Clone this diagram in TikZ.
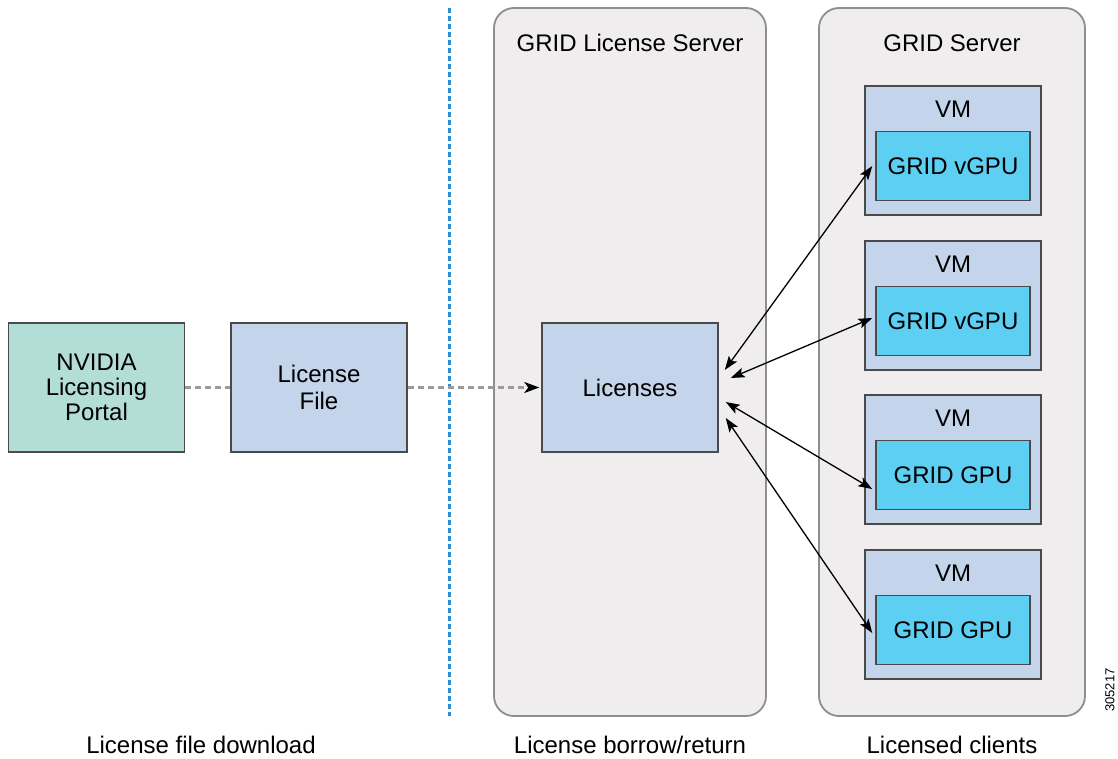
\documentclass[tikz,border=0pt]{standalone}
\usepackage{fontspec}
\setmainfont{Liberation Sans}
\usetikzlibrary{arrows.meta,calc}
\definecolor{portalc}{HTML}{B3DED8}
\definecolor{boxc}{HTML}{C4D4EA}
\definecolor{gpuc}{HTML}{5DCFF3}
\definecolor{contc}{HTML}{EFEDED}
\definecolor{contline}{HTML}{8E8E8E}
\definecolor{boxline}{HTML}{4A4A4A}
\definecolor{dotc}{HTML}{2A8FD0}
\definecolor{dashc}{HTML}{9A9A9A}
\tikzset{
  container/.style={draw=contline, fill=contc, line width=1.8pt, rounded corners=20pt, minimum width=#1, minimum height=708pt, inner sep=0pt},
  plainbox/.style={draw=boxline, line width=1.5pt, minimum width=176pt, minimum height=129pt, inner sep=0pt, align=center},
  vmbox/.style={draw=boxline, fill=boxc, line width=1.5pt, minimum width=176pt, minimum height=129pt, inner sep=0pt},
  gpubox/.style={draw=boxline, fill=gpuc, line width=1.5pt, minimum width=154pt, minimum height=69pt, inner sep=0pt},
  lbl/.style={inner sep=0pt, anchor=base},
  link/.style={{Stealth[length=14pt,width=10pt,inset=3pt]}-{Stealth[length=14pt,width=10pt,inset=3pt]}, line width=1.3pt, black},
  dashlink/.style={draw=dashc, line width=2.2pt, dash pattern=on 6pt off 4pt},
}
\begin{document}
\begin{tikzpicture}[x=1pt,y=-1pt,font=\fontsize{24}{28}\selectfont]
\useasboundingbox (0,0) rectangle (1118,758);
% containers
\node[container=272pt] (lsrv) at (630,362) {};
\node[container=266pt] (gsrv) at (952,362) {};
\node[lbl] (lsrvt) at (630,51) {GRID License Server};
\node[lbl] (gsrvt) at (952,51) {GRID Server};
% divider
\coordinate (dtop) at (449,8);
\coordinate (dbot) at (449,716);
\draw[dotc, line width=3pt, dash pattern=on 5pt off 3pt] (dtop) -- (dbot);
% left boxes
\node[plainbox, fill=portalc] (portal) at (96.5,387.5) {NVIDIA\\[-3pt]Licensing\\[-3pt]Portal};
\node[plainbox, fill=boxc] (lfile) at (319,387.5) {License\\[-1pt]File};
\node[plainbox, fill=boxc] (lic) at (630,387.5) {Licenses};
% VMs
\foreach \i/\y/\t in {1/150.5/GRID vGPU, 2/305.5/GRID vGPU, 3/459.5/GRID GPU, 4/614.5/GRID GPU}{
  \node[vmbox] (vm\i) at (953,\y) {};
  \node[lbl] (vml\i) at ($(vm\i.north)+(0,32)$) {VM};
  \node[gpubox] (gpu\i) at ($(vm\i.center)+(0,15.5)$) {\t};
}
% dashed links
\draw[dashlink] (portal.east) -- (lfile.west);
\draw[dashlink, -{Stealth[length=15pt,width=11pt,inset=4pt,color=black]}] (lfile.east) -- ([xshift=-2pt]lic.west);
% license links
\coordinate (s1) at ($(lic.east)+(6,-17.5)$);
\coordinate (s2) at ($(lic.east)+(12,-9.5)$);
\coordinate (s3) at ($(lic.east)+(7,14.5)$);
\coordinate (s4) at ($(lic.east)+(7,30.5)$);
\draw[link] (s1) -- ([xshift=-3pt,yshift=0pt]gpu1.west);
\draw[link] (s2) -- ([xshift=-3pt,yshift=3pt]gpu2.west);
\draw[link] (s3) -- ([xshift=-3pt,yshift=-14pt]gpu3.west);
\draw[link] (s4) -- ([xshift=-3pt,yshift=-3pt]gpu4.west);
% bottom labels
\node[lbl] (b1) at (201,753) {License file download};
\node[lbl] (b2) at (630,753) {License borrow/return};
\node[lbl] (b3) at (952,753) {Licensed clients};
\node[inner sep=0pt, rotate=90, font=\fontsize{13}{15}\selectfont] (num) at (1110,690) {305217};
\end{tikzpicture}
\end{document}
